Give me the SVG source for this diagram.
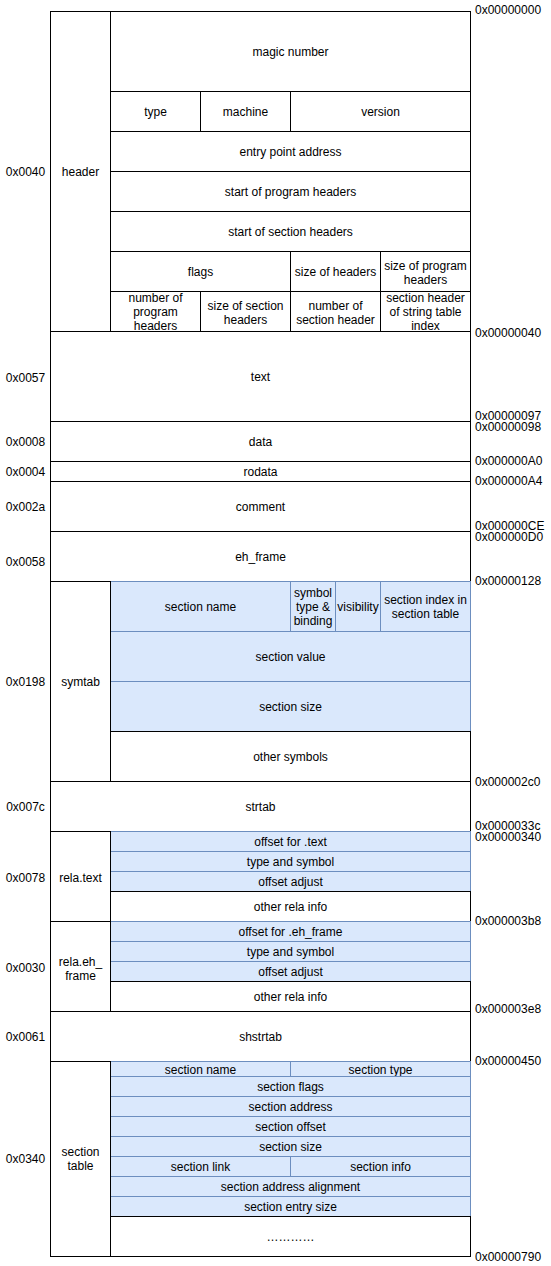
<svg xmlns="http://www.w3.org/2000/svg" width="551" height="1266" viewBox="0 0 551 1266">
<style>
.b{fill:#ffffff;stroke:#000000;stroke-width:1}
.u{fill:#dae8fc;stroke:#6c8ebf;stroke-width:1}
text{font-family:"Liberation Sans",Arial,Helvetica,sans-serif;font-size:12px;fill:#000000;text-anchor:middle}
.r{text-anchor:start}
</style>
<rect x="0" y="0" width="551" height="1266" fill="#ffffff"/>
<g id="header">
<rect class="b" x="50.5" y="11.5" width="60" height="320"/>
<text x="80.5" y="176">header</text>
<rect class="b" x="110.5" y="11.5" width="360" height="80"/>
<text x="290.5" y="56">magic number</text>
<rect class="b" x="110.5" y="91.5" width="90" height="40"/>
<text x="155.5" y="116">type</text>
<rect class="b" x="200.5" y="91.5" width="90" height="40"/>
<text x="245.5" y="116">machine</text>
<rect class="b" x="290.5" y="91.5" width="180" height="40"/>
<text x="380.5" y="116">version</text>
<rect class="b" x="110.5" y="131.5" width="360" height="40"/>
<text x="290.5" y="156">entry point address</text>
<rect class="b" x="110.5" y="171.5" width="360" height="40"/>
<text x="290.5" y="196">start of program headers</text>
<rect class="b" x="110.5" y="211.5" width="360" height="40"/>
<text x="290.5" y="236">start of section headers</text>
<rect class="b" x="110.5" y="251.5" width="180" height="40"/>
<text x="200.5" y="276">flags</text>
<rect class="b" x="290.5" y="251.5" width="90" height="40"/>
<text x="335.5" y="276">size of headers</text>
<rect class="b" x="380.5" y="251.5" width="90" height="40"/>
<text x="425.5" y="269.8">size of program</text>
<text x="425.5" y="284.2">headers</text>
<rect class="b" x="110.5" y="291.5" width="90" height="40"/>
<text x="155.5" y="301.6">number of</text>
<text x="155.5" y="316">program</text>
<text x="155.5" y="330.4">headers</text>
<rect class="b" x="200.5" y="291.5" width="90" height="40"/>
<text x="245.5" y="309.8">size of section</text>
<text x="245.5" y="324.2">headers</text>
<rect class="b" x="290.5" y="291.5" width="90" height="40"/>
<text x="335.5" y="309.8">number of</text>
<text x="335.5" y="324.2">section header</text>
<rect class="b" x="380.5" y="291.5" width="90" height="40"/>
<text x="425.5" y="301.6">section header</text>
<text x="425.5" y="316">of string table</text>
<text x="425.5" y="330.4">index</text>
</g>
<g id="text">
<rect class="b" x="50.5" y="331.5" width="420" height="90"/>
<text x="260.5" y="381">text</text>
</g>
<g id="data">
<rect class="b" x="50.5" y="421.5" width="420" height="40"/>
<text x="260.5" y="446">data</text>
</g>
<g id="rodata">
<rect class="b" x="50.5" y="461.5" width="420" height="20"/>
<text x="260.5" y="476">rodata</text>
</g>
<g id="comment">
<rect class="b" x="50.5" y="481.5" width="420" height="50"/>
<text x="260.5" y="511">comment</text>
</g>
<g id="eh_frame">
<rect class="b" x="50.5" y="531.5" width="420" height="50"/>
<text x="260.5" y="561">eh_frame</text>
</g>
<g id="symtab">
<rect class="b" x="50.5" y="581.5" width="420" height="200"/>
<rect class="u" x="110.5" y="581.5" width="180" height="50"/>
<text x="200.5" y="611">section name</text>
<rect class="u" x="290.5" y="581.5" width="45" height="50"/>
<text x="313" y="596.6">symbol</text>
<text x="313" y="611">type &amp;</text>
<text x="313" y="625.4">binding</text>
<rect class="u" x="335.5" y="581.5" width="45" height="50"/>
<text x="358" y="611">visibility</text>
<rect class="u" x="380.5" y="581.5" width="90" height="50"/>
<text x="425.5" y="603.8">section index in</text>
<text x="425.5" y="618.2">section table</text>
<rect class="u" x="110.5" y="631.5" width="360" height="50"/>
<text x="290.5" y="661">section value</text>
<rect class="u" x="110.5" y="681.5" width="360" height="50"/>
<text x="290.5" y="711">section size</text>
<rect class="b" x="110.5" y="731.5" width="360" height="50"/>
<text x="290.5" y="761">other symbols</text>
<rect class="b" x="50.5" y="581.5" width="60" height="200"/>
<text x="80.5" y="686">symtab</text>
</g>
<g id="strtab">
<rect class="b" x="50.5" y="781.5" width="420" height="50"/>
<text x="260.5" y="811">strtab</text>
</g>
<g id="rela_text">
<rect class="b" x="50.5" y="831.5" width="420" height="90"/>
<rect class="u" x="110.5" y="831.5" width="360" height="20"/>
<text x="290.5" y="846">offset for .text</text>
<rect class="u" x="110.5" y="851.5" width="360" height="20"/>
<text x="290.5" y="866">type and symbol</text>
<rect class="u" x="110.5" y="871.5" width="360" height="20"/>
<text x="290.5" y="886">offset adjust</text>
<rect class="b" x="110.5" y="891.5" width="360" height="30"/>
<text x="290.5" y="911">other rela info</text>
<rect class="b" x="50.5" y="831.5" width="60" height="90"/>
<text x="80.5" y="882">rela.text</text>
</g>
<g id="rela_eh_frame">
<rect class="b" x="50.5" y="921.5" width="420" height="90"/>
<rect class="u" x="110.5" y="921.5" width="360" height="20"/>
<text x="290.5" y="936">offset for .eh_frame</text>
<rect class="u" x="110.5" y="941.5" width="360" height="20"/>
<text x="290.5" y="956">type and symbol</text>
<rect class="u" x="110.5" y="961.5" width="360" height="20"/>
<text x="290.5" y="976">offset adjust</text>
<rect class="b" x="110.5" y="981.5" width="360" height="30"/>
<text x="290.5" y="1001">other rela info</text>
<rect class="b" x="50.5" y="921.5" width="60" height="90"/>
<text x="80.5" y="965.8">rela.eh_</text>
<text x="80.5" y="980.2">frame</text>
</g>
<g id="shstrtab">
<rect class="b" x="50.5" y="1011.5" width="420" height="50"/>
<text x="260.5" y="1041">shstrtab</text>
</g>
<g id="section_table">
<rect class="b" x="50.5" y="1061.5" width="420" height="195"/>
<rect class="u" x="110.5" y="1061.5" width="180" height="15"/>
<text x="200.5" y="1073.5">section name</text>
<rect class="u" x="290.5" y="1061.5" width="180" height="15"/>
<text x="380.5" y="1073.5">section type</text>
<rect class="u" x="110.5" y="1076.5" width="360" height="20"/>
<text x="290.5" y="1091">section flags</text>
<rect class="u" x="110.5" y="1096.5" width="360" height="20"/>
<text x="290.5" y="1111">section address</text>
<rect class="u" x="110.5" y="1116.5" width="360" height="20"/>
<text x="290.5" y="1131">section offset</text>
<rect class="u" x="110.5" y="1136.5" width="360" height="20"/>
<text x="290.5" y="1151">section size</text>
<rect class="u" x="110.5" y="1156.5" width="180" height="20"/>
<text x="200.5" y="1171">section link</text>
<rect class="u" x="290.5" y="1156.5" width="180" height="20"/>
<text x="380.5" y="1171">section info</text>
<rect class="u" x="110.5" y="1176.5" width="360" height="20"/>
<text x="290.5" y="1191">section address alignment</text>
<rect class="u" x="110.5" y="1196.5" width="360" height="20"/>
<text x="290.5" y="1211">section entry size</text>
<rect class="b" x="110.5" y="1216.5" width="360" height="40"/>
<text x="290.5" y="1241">…………</text>
<rect class="b" x="50.5" y="1061.5" width="60" height="195"/>
<text x="80.5" y="1156">section</text>
<text x="80.5" y="1170.4">table</text>
</g>
<g id="sizes">
<text x="25.5" y="176">0x0040</text>
<text x="25.5" y="382">0x0057</text>
<text x="25.5" y="446">0x0008</text>
<text x="25.5" y="476">0x0004</text>
<text x="25.5" y="511">0x002a</text>
<text x="25.5" y="566">0x0058</text>
<text x="25.5" y="686">0x0198</text>
<text x="25.5" y="811">0x007c</text>
<text x="25.5" y="882">0x0078</text>
<text x="25.5" y="972">0x0030</text>
<text x="25.5" y="1041">0x0061</text>
<text x="25.5" y="1163">0x0340</text>
</g>
<g id="addresses">
<text class="r" x="475" y="14">0x00000000</text>
<text class="r" x="475" y="337">0x00000040</text>
<text class="r" x="475" y="420">0x00000097</text>
<text class="r" x="475" y="431">0x00000098</text>
<text class="r" x="475" y="465">0x000000A0</text>
<text class="r" x="475" y="485">0x000000A4</text>
<text class="r" x="475" y="530">0x000000CE</text>
<text class="r" x="475" y="541">0x000000D0</text>
<text class="r" x="475" y="585">0x00000128</text>
<text class="r" x="475" y="786">0x000002c0</text>
<text class="r" x="475" y="830">0x0000033c</text>
<text class="r" x="475" y="841">0x00000340</text>
<text class="r" x="475" y="925">0x000003b8</text>
<text class="r" x="475" y="1013">0x000003e8</text>
<text class="r" x="475" y="1065">0x00000450</text>
<text class="r" x="475" y="1261">0x00000790</text>
</g>
</svg>
